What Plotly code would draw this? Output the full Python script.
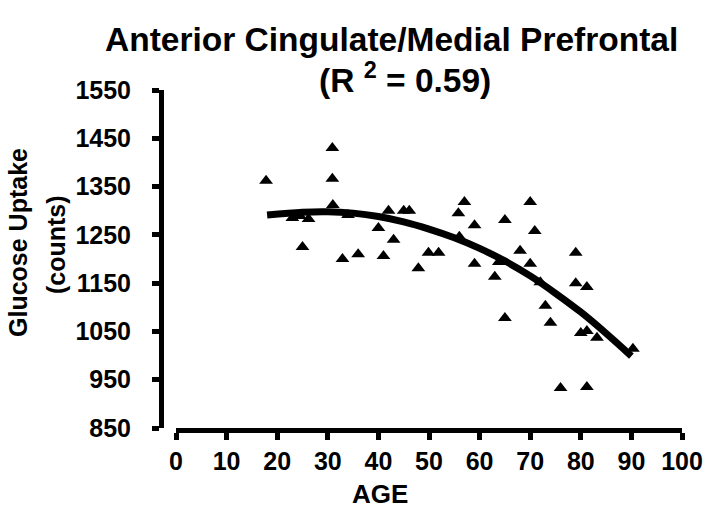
import plotly.graph_objects as go

# Scatter data (age, glucose uptake counts)
ages = [17.8, 30.9, 30.9, 31.0, 23.0, 24.5, 26.2, 25.0, 32.9, 34.0,
        42.0, 40.0, 45.0, 46.1, 43.0, 36.0, 41.0, 47.9, 49.9, 51.9,
        57.0, 55.8, 59.0, 56.0, 59.0, 65.0, 70.0, 70.9, 68.0, 63.8,
        63.0, 70.0, 72.0, 79.0, 79.0, 81.2, 73.0, 65.0, 74.0, 80.0,
        81.2, 83.2, 90.3, 76.0, 81.2]
uptake = [1362, 1430, 1366, 1312, 1285, 1289, 1283, 1225, 1200, 1291,
          1300, 1264, 1300, 1300, 1240, 1210, 1206, 1181, 1213, 1213,
          1318, 1295, 1270, 1246, 1190, 1281, 1318, 1258, 1217, 1194,
          1163, 1190, 1152, 1213, 1150, 1142, 1103, 1078, 1068, 1047,
          1051, 1037, 1014, 933, 935]

# Quadratic fit curve
fit_ages = [18, 25, 30, 35, 40, 45, 50, 55, 60, 65, 70, 75, 80, 85, 90]
fit_uptake = [1291, 1297, 1298, 1295, 1288, 1277, 1262, 1244, 1222, 1196,
              1165, 1129, 1090, 1046, 999]

x_ticks = [0, 10, 20, 30, 40, 50, 60, 70, 80, 90, 100]
y_ticks = [850, 950, 1050, 1150, 1250, 1350, 1450, 1550]

title_line1 = "Anterior Cingulate/Medial Prefrontal"
title_line2 = "(R <sup>2</sup> = 0.59)"
x_title = "AGE"
y_title_line1 = "Glucose Uptake"
y_title_line2 = "(counts)"

FONT = "Liberation Sans, Arial, sans-serif"

W, H = 708, 517
ml, mr, mt, mb = 161, 26, 90, 89
plot_w = W - ml - mr
plot_h = H - mt - mb
x0_px = 176


def px_x(p):
    return (p - ml) / plot_w


def px_y(p):
    return (H - mb - p) / plot_h


fig = go.Figure()
fig.add_trace(go.Scatter(
    x=ages, y=uptake, mode="markers",
    marker=dict(symbol="triangle-up", size=12, color="black"),
    showlegend=False, cliponaxis=False,
))
fig.add_trace(go.Scatter(
    x=fit_ages, y=fit_uptake, mode="lines",
    line=dict(color="black", width=7, shape="spline"),
    showlegend=False,
))


def bold(size):
    return dict(family=FONT, size=size, color="black", weight="bold")


annotations = [
    dict(text=title_line1, x=px_x(391), y=px_y(39), font=bold(33.5)),
    dict(text=title_line2, x=px_x(405), y=px_y(78), font=bold(33.5)),
    dict(text=x_title, x=px_x(380), y=px_y(494), font=bold(26)),
    dict(text=y_title_line1, x=px_x(18), y=px_y(243), font=bold(25), textangle=-90),
    dict(text=y_title_line2, x=px_x(56), y=px_y(245), font=bold(25), textangle=-90),
]
for a in annotations:
    a.update(xref="paper", yref="paper", xanchor="center", yanchor="middle",
             showarrow=False)

fig.update_layout(
    width=W, height=H,
    margin=dict(l=ml, r=mr, t=mt, b=mb, autoexpand=False),
    paper_bgcolor="white", plot_bgcolor="white",
    font=bold(24),
    annotations=annotations,
    xaxis=dict(
        range=[0, 100], domain=[(x0_px - ml) / plot_w, 1],
        tickvals=x_ticks, ticktext=[str(v) for v in x_ticks],
        showline=True, linecolor="black", linewidth=5,
        ticks="outside", ticklen=7, tickwidth=5, tickcolor="black",
        showgrid=False, zeroline=False, automargin=False,
        tickfont=bold(25),
        anchor="y",
    ),
    yaxis=dict(
        range=[850, 1550], domain=[0, 1],
        tickvals=y_ticks, ticktext=[str(v) for v in y_ticks],
        showline=True, linecolor="black", linewidth=5,
        ticks="outside", ticklen=7, tickwidth=5, tickcolor="black",
        showgrid=False, zeroline=False, automargin=False,
        tickfont=bold(25),
        ticklabelstandoff=16,
        anchor="free", position=0,
    ),
)

fig.write_html(
    "out.html",
    config={"displayModeBar": False},
    post_script="document.body.style.margin='0px';document.body.style.padding='0px';",
)
